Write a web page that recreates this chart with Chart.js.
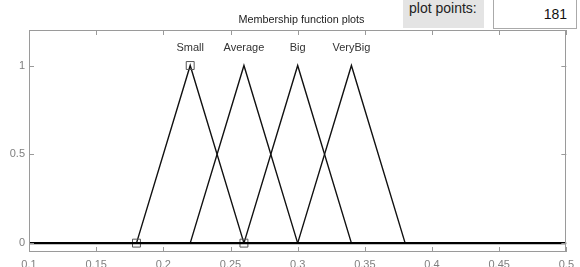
<!DOCTYPE html>
<html>
<head>
<meta charset="utf-8">
<script src="https://cdn.jsdelivr.net/npm/chart.js@4/dist/chart.umd.min.js"></script>
<style>
  html, body { margin: 0; padding: 0; background: #fff; }
  #wrap { position: relative; width: 580px; height: 267px; overflow: hidden; font-family: "Liberation Sans", Arial, sans-serif; }
  #c { position: absolute; left: 0; top: 0; }
  #title { position: absolute; left: 29px; width: 545px; top: 13px; text-align: center; font-size: 10.8px; color: #222; }
  #ppLabel { position: absolute; left: 403px; top: 0; width: 81px; height: 28px; background: #e4e4e4; font-size: 14px; color: #222; }
  #ppLabel span { position: absolute; left: 6px; top: 0px; }
  #ppBox { position: absolute; left: 493px; top: -2px; width: 82px; height: 29px; border: 1px solid #aaa; background: #fff; font-size: 14px; color: #111; }
  #ppBox span { position: absolute; right: 9px; top: 7px; }
</style>
</head>
<body>
<div id="wrap">
  <canvas id="c" width="580" height="267"></canvas>
  <div id="title">Membership function plots</div>
  <div id="ppLabel"><span>plot points:</span></div>
  <div id="ppBox"><span>181</span></div>
</div>
<script>
// ---- data ----
const mfNames = ['Small', 'Average', 'Big', 'VeryBig'];
const mfLeft  = [0.18, 0.22, 0.26, 0.30];
const mfPeak  = [0.22, 0.26, 0.30, 0.34];
const mfRight = [0.26, 0.30, 0.34, 0.38];
const xRange  = [0.1, 0.5];
const yRange  = [-0.05, 1.2];
const xTicks  = [0.1, 0.15, 0.2, 0.25, 0.3, 0.35, 0.4, 0.45, 0.5];
const yTicks  = [0, 0.5, 1];
const selectedIndex = 0;

const datasets = [];
// base line at zero across the whole range
datasets.push({
  data: [{x: xRange[0], y: 0}, {x: xRange[1], y: 0}],
  borderColor: '#000', borderWidth: 2.2, pointRadius: 0, showLine: true, order: 0
});
mfNames.forEach((n, i) => {
  const sel = i === selectedIndex;
  datasets.push({
    label: n,
    data: [{x: mfLeft[i], y: 0}, {x: mfPeak[i], y: 1}, {x: mfRight[i], y: 0}],
    borderColor: '#111', borderWidth: 1.4, showLine: true,
    pointStyle: 'rect',
    pointRadius: sel ? 5.6 : 0,
    pointBorderColor: '#555', pointBackgroundColor: 'rgba(0,0,0,0)', pointBorderWidth: 1,
    order: 1
  });
});

const framePlugin = {
  id: 'frame',
  afterDatasetsDraw(chart) {
    const {ctx, chartArea: a, scales} = chart;
    ctx.save();
    ctx.strokeStyle = '#9a9a9a';
    ctx.lineWidth = 1;
    ctx.strokeRect(Math.round(a.left) + 0.5, Math.round(a.top) + 0.5, Math.round(a.right - a.left) - 1, Math.round(a.bottom - a.top) - 1);
    ctx.beginPath();
    scales.x.ticks.forEach(t => {
      const px = Math.round(scales.x.getPixelForValue(t.value)) + 0.5;
      ctx.moveTo(px, a.bottom); ctx.lineTo(px, a.bottom - 5);
      ctx.moveTo(px, a.top); ctx.lineTo(px, a.top + 5);
    });
    scales.y.ticks.forEach(t => {
      const py = Math.round(scales.y.getPixelForValue(t.value)) + 0.5;
      ctx.moveTo(a.left, py); ctx.lineTo(a.left + 5, py);
      ctx.moveTo(a.right, py); ctx.lineTo(a.right - 5, py);
    });
    ctx.stroke();
    // MF labels
    ctx.fillStyle = '#333';
    ctx.font = '11px "Liberation Sans", Arial, sans-serif';
    ctx.textAlign = 'center';
    ctx.textBaseline = 'middle';
    mfNames.forEach((n, i) => {
      ctx.fillText(n, scales.x.getPixelForValue(mfPeak[i]), 48);
    });
    ctx.restore();
  }
};

new Chart(document.getElementById('c'), {
  type: 'scatter',
  data: { datasets },
  options: {
    responsive: false,
    animation: false,
    layout: { padding: { top: 30, right: 6, left: 0, bottom: 0 } },
    plugins: { legend: { display: false }, tooltip: { enabled: false } },
    scales: {
      x: {
        type: 'linear', min: xRange[0], max: xRange[1],
        afterBuildTicks: s => { s.ticks = xTicks.map(v => ({value: v})); },
        afterFit: s => { s.height = 15; },
        grid: { display: false, drawTicks: false },
        border: { display: false },
        ticks: { color: '#808080', font: { size: 11, family: '"Liberation Sans", Arial, sans-serif' }, padding: 6, maxRotation: 0, autoSkip: false,
          callback: v => String(v) }
      },
      y: {
        type: 'linear', min: yRange[0], max: yRange[1],
        afterBuildTicks: s => { s.ticks = yTicks.map(v => ({value: v})); },
        afterFit: s => { s.width = 29; },
        grid: { display: false, drawTicks: false },
        border: { display: false },
        ticks: { color: '#808080', font: { size: 11, family: '"Liberation Sans", Arial, sans-serif' }, padding: 4,
          callback: v => String(v) }
      }
    }
  },
  plugins: [framePlugin]
});
</script>
</body>
</html>
